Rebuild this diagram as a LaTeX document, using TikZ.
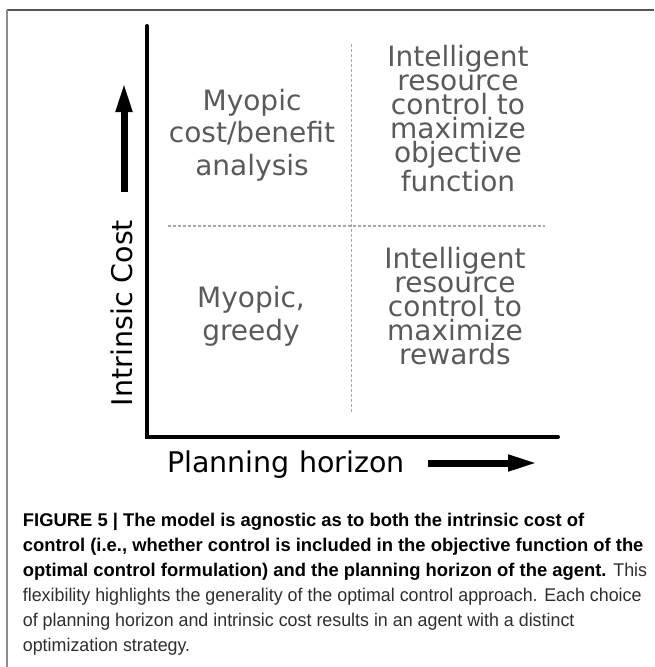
\documentclass[tikz,border=0pt]{standalone}
\usepackage{fontspec}
\setmainfont{DejaVu Sans}
\newfontfamily\capfont{Liberation Sans}
\newfontfamily\capregular[FakeStretch=0.97]{Liberation Sans}
\usetikzlibrary{arrows.meta}
\definecolor{quadgray}{HTML}{5A5A5A}
\definecolor{dashgray}{HTML}{A8A8A8}
\definecolor{capgray}{HTML}{2E2E2E}
\tikzset{
  quadtext/.style={inner sep=0pt, align=center, text=quadgray, font=\fontsize{28}{24}\selectfont},
  quadloose/.style={quadtext, font=\fontsize{28}{32.5}\selectfont},
  axislabel/.style={inner sep=0pt, text=black, font=\fontsize{28.5}{30}\selectfont},
  axisline/.style={line width=4pt, black},
  divider/.style={dashgray, line width=1.1pt, dash pattern=on 3pt off 2pt},
  bigarrow/.style={line width=7pt, -{Triangle[length=30pt,width=15pt]}},
  framebar/.style={line width=1.5pt},
}
\begin{document}
\begin{tikzpicture}[x=1pt,y=-1pt]
\useasboundingbox (0,0) rectangle (654,667);
% frame
\coordinate (ftl) at (7,10);
\coordinate (ftr) at (654,10);
\coordinate (fbl) at (7,667);
\draw[framebar, color={rgb,255:red,85;green,85;blue,85}] (ftl) -- (ftr);
\draw[framebar, color={rgb,255:red,140;green,140;blue,140}] (ftl) -- (fbl);
% axes
\coordinate (ytop) at (147,26);
\coordinate (origin) at (147,437);
\coordinate (xend) at (558,437);
\draw[axisline, line cap=round] (ytop) -- (origin) -- (xend);
% dashed dividers
\coordinate (vtop) at (351.5,44);
\coordinate (vbot) at (351.5,413);
\coordinate (hleft) at (168,226);
\coordinate (hright) at (545,226);
\draw[divider] (vtop) -- (vbot);
\draw[divider] (hleft) -- (hright);
% axis arrows
\coordinate (uptail) at (124,192);
\coordinate (uptip) at (124,82);
\draw[bigarrow] (uptail) -- (uptip);
\coordinate (rttail) at (428,463);
\coordinate (rttip) at (538,463);
\draw[bigarrow] (rttail) -- (rttip);
% axis labels
\node[axislabel, rotate=90, anchor=base] (ylab) at (132,313) {Intrinsic Cost};
\node[axislabel, anchor=base west] (xlab) at (167,472) {Planning horizon};
% quadrant texts (anchor base = baseline of last line)
\node[quadloose, anchor=base] (q1) at (252,175) {Myopic\\cost/benefit\\analysis};
\node[quadtext, anchor=base] (q2) at (458,191) {Intelligent\\resource\\control to\\maximize\\objective\\function};
\node[quadloose, anchor=base] (q3) at (251,340) {Myopic,\\greedy};
\node[quadtext, anchor=base] (q4) at (455,364) {Intelligent\\resource\\control to\\maximize\\rewards};
% caption
\node[inner sep=0pt, anchor=base west, align=left, text=capgray,
      font=\capfont\fontsize{18.4}{25}\selectfont] (cap) at (22.7,651.7)
{\textcolor{black}{\bfseries FIGURE 5 | The model is agnostic as to both the intrinsic cost of}\\
\textcolor{black}{\bfseries control (i.e., whether control is included in the objective function of the}\\
\textcolor{black}{\bfseries optimal control formulation) and the planning horizon of the agent.} {\capregular This}\\
{\capregular flexibility highlights the generality of the optimal control approach. Each choice}\\
{\capregular of planning horizon and intrinsic cost results in an agent with a distinct}\\
{\capregular optimization strategy.}};
\end{tikzpicture}
\end{document}
